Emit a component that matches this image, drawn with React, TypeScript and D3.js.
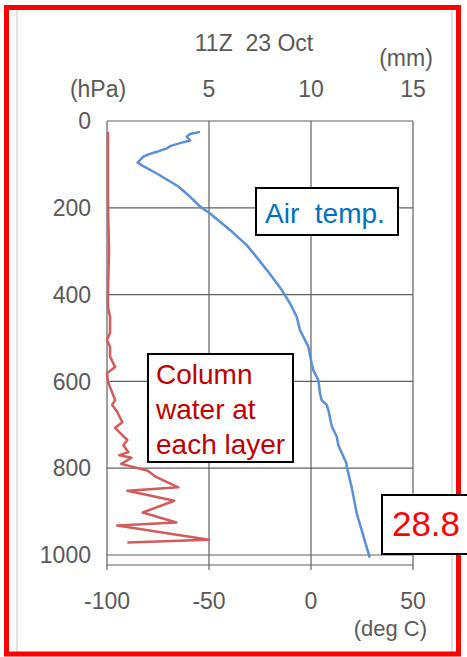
import React from "react";
import * as d3 from "d3";

// ---- data ----
const title = "11Z\u00a0\u00a023 Oct";
const pressureTicks = [0, 200, 400, 600, 800, 1000];
const tempTicks = [-100, -50, 0, 50];
const waterTicks = [5, 10, 15];

// air temperature profile: pressure (hPa) and temperature (deg C)
const tempPressure = [25, 30, 36, 45, 51, 58, 63, 71, 77, 82, 96, 104, 121, 151, 171, 197, 213, 251, 286, 309, 343, 389, 420, 451, 482, 520, 558, 574, 597, 627, 643, 654, 666, 704, 727, 747, 789, 796, 843, 904, 942, 1006];
const tempValues = [-54.4, -59.3, -60.9, -59.3, -64.2, -69.1, -70.7, -75.6, -79.7, -82.2, -85, -82.2, -75.6, -65, -60.1, -54.4, -49.5, -39.7, -31.5, -27.5, -21.7, -14.4, -10.3, -7, -5.4, -1.3, 0.3, 1.1, 3.6, 4.4, 5.2, 7.7, 8.5, 10.2, 12.6, 13.4, 17.4, 17.5, 19.9, 22.4, 24.8, 28.8];

// column water at each layer: pressure (hPa) and water (mm)
const waterPressure = [25, 100, 200, 300, 389, 429, 451, 488, 505, 520, 543, 567, 581, 601, 631, 643, 654, 670, 694, 707, 719, 735, 747, 763, 770, 776, 790, 806, 820, 844, 852, 875, 902, 925, 932, 965, 971];
const waterValues = [0.05, 0.05, 0.05, 0.1, 0.05, 0.05, 0.15, 0.15, 0.0, 0.15, 0.15, 0.4, 0.0, 0.05, 0.3, 0.4, 0.25, 0.5, 0.75, 0.4, 0.65, 1.0, 0.8, 1.05, 0.6, 1.2, 0.7, 2.0, 2.4, 3.5, 1.0, 3.3, 1.75, 3.4, 0.5, 5.0, 1.0];

const surfaceLabel = "28.8";

export default function App() {
  const W = 467, H = 657;
  const left = 107, right = 413, top = 121;
  const x = d3.scaleLinear().domain([-100, 50]).range([left, right]);
  const xw = d3.scaleLinear().domain([0, 15]).range([left, right]);
  const y = d3.scaleLinear().domain([0, 1000]).range([top, 555]);
  const yAxisEnd = y(1023);

  const tempLine = d3.line<number>()
    .x((_, i) => x(tempValues[i]))
    .y((_, i) => y(tempPressure[i]));
  const waterLine = d3.line<number>()
    .x((_, i) => xw(waterValues[i]))
    .y((_, i) => y(waterPressure[i]));

  const font = "'Liberation Sans', Arial, sans-serif";
  const grid = "#606060";
  const tickColor = "#595959";

  return (
    <svg width={W} height={H} style={{ position: "absolute", left: 0, top: 0, background: "#fff" }} fontFamily={font}>
      <rect x={0} y={0} width={W} height={H} fill="#fff" />
      {/* chart area light border */}
      <line x1={17} y1={10} x2={17} y2={652} stroke="#d9d9d9" strokeWidth={1.5} />
      <line x1={452} y1={10} x2={452} y2={652} stroke="#d9d9d9" strokeWidth={1.5} />

      {/* horizontal gridlines */}
      {pressureTicks.map((p) => (
        <line key={"h" + p} x1={left} x2={right} y1={y(p)} y2={y(p)} stroke={grid} strokeWidth={1.2} />
      ))}
      {/* vertical gridlines / ticks */}
      {tempTicks.map((t) => (
        <line key={"v" + t} x1={x(t)} x2={x(t)} y1={top} y2={yAxisEnd + 5} stroke={grid} strokeWidth={1.2} />
      ))}
      {/* bottom axis */}
      <line x1={left} x2={right} y1={yAxisEnd} y2={yAxisEnd} stroke={grid} strokeWidth={1.2} />

      {/* y tick labels */}
      {pressureTicks.map((p) => (
        <text key={"yl" + p} x={91} y={y(p)} dy="0.36em" textAnchor="end" fontSize={23} fill={tickColor}>{p}</text>
      ))}
      {/* bottom tick labels */}
      {tempTicks.map((t) => (
        <text key={"xl" + t} x={x(t)} y={609} textAnchor="middle" fontSize={23} fill={tickColor}>{t}</text>
      ))}
      <text x={427} y={636} textAnchor="end" fontSize={22} fill={tickColor}>(deg C)</text>
      {/* top tick labels */}
      {waterTicks.map((w) => (
        <text key={"wl" + w} x={xw(w)} y={97} textAnchor="middle" fontSize={23} fill={tickColor}>{w}</text>
      ))}
      <text x={98} y={97} textAnchor="middle" fontSize={23} fill={tickColor}>(hPa)</text>
      <text x={406} y={66} textAnchor="middle" fontSize={23} fill={tickColor}>(mm)</text>
      <text x={254} y={51} textAnchor="middle" fontSize={23} fill={tickColor}>{title}</text>

      {/* series */}
      <path d={waterLine(waterValues) || ""} fill="none" stroke="#d45b5b" strokeWidth={2.5} strokeLinejoin="round" />
      <path d={tempLine(tempValues) || ""} fill="none" stroke="#5b8fd6" strokeWidth={2.5} strokeLinejoin="round" />

      {/* labels */}
      <rect x={256} y={188} width={142} height={47} fill="#fff" stroke="#000" strokeWidth={2} />
      <text x={265} y={223} fontSize={28} fill="#0070C0">{"Air\u00a0\u00a0temp."}</text>

      <rect x={148} y={354} width={145} height={108} fill="#fff" stroke="#000" strokeWidth={2} />
      <text x={156} y={384} fontSize={28} fill="#C00000">Column</text>
      <text x={156} y={419} fontSize={28} fill="#C00000">water at</text>
      <text x={156} y={454} fontSize={28} fill="#C00000">each layer</text>

      {/* outer red frame */}
      <rect x={6.5} y={7.5} width={452} height={646.5} fill="none" stroke="#ff0000" strokeWidth={5} />

      <rect x={382} y={495} width={90} height={59} fill="#fff" stroke="#000" strokeWidth={2} />
      <text x={426} y={536} textAnchor="middle" fontSize={35} fill="#ff0000">{surfaceLabel}</text>
    </svg>
  );
}
